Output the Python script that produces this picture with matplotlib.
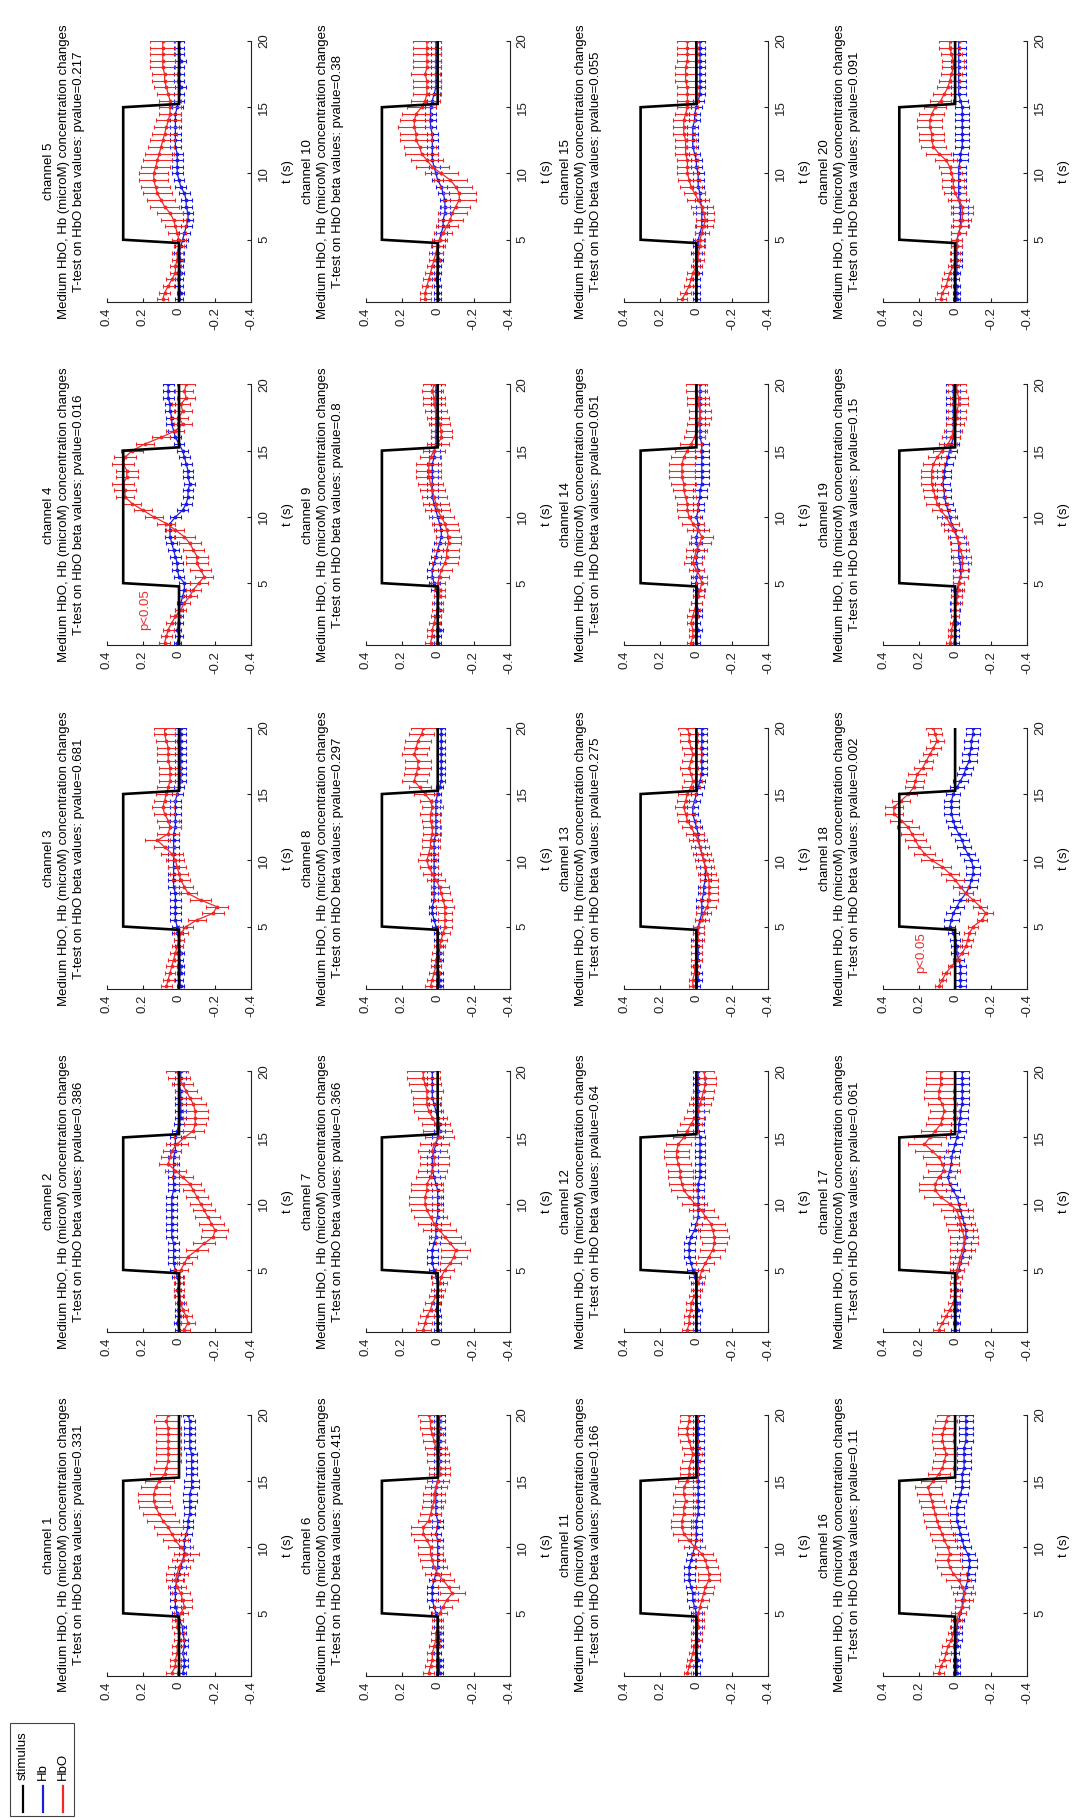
import numpy as np
import matplotlib
matplotlib.use("Agg")
import matplotlib.pyplot as plt
from matplotlib.patches import Rectangle

plt.rcParams['font.family'] = ['Liberation Sans', 'DejaVu Sans']
plt.rcParams['axes.unicode_minus'] = False

# ---------------- data (concentration values in 0.01 microM units) ----------------
t_step = 0.5                      # sampling period (s)
n_samples = 40                    # samples 0.5 s ... 20 s
stim_t = [0.3, 4.75, 5.0, 15.0, 15.25, 20.0]
stim_v = [0.0, 0.0, 0.31, 0.31, 0.0, 0.0]

pvalues = ['0.331', '0.386', '0.681', '0.016', '0.217',
           '0.415', '0.366', '0.297', '0.8', '0.38',
           '0.166', '0.64', '0.275', '0.051', '0.055',
           '0.11', '0.061', '0.002', '0.15', '0.091']

ch1_hbo = [4, 2, 2, 1, 1, 0, 0, 1, 1, -1, -3, -2, -1, 1, 2, 1, 0, -2, -4, -1,
           2, 4, 6, 9, 11, 13, 14, 14, 13, 11, 8, 7, 6, 6, 6, 6, 6, 6, 7, 6]
ch1_hbo_err = [3, 3, 3, 3, 3, 3, 3, 3, 3, 4, 4, 5, 5, 5, 5, 6, 6, 6, 7, 7,
               7, 8, 8, 9, 9, 9, 9, 9, 8, 8, 8, 7, 7, 7, 7, 7, 7, 7, 7, 7]
ch1_hb = [-2, -3, -3, -2, -3, -3, -2, -2, 0, 1, 2, 2, 2, 2, 1, 0, -1, -2, -3, -3,
          -3, -4, -5, -5, -6, -6, -6, -6, -7, -7, -7, -7, -7, -7, -6, -6, -6, -6, -6, -5]
ch1_hb_err = [2, 2, 2, 2, 2, 2, 2, 2, 2, 3, 3, 3, 3, 3, 3, 3, 3, 3, 3, 3,
              3, 3, 3, 3, 3, 3, 4, 4, 4, 4, 3, 3, 3, 3, 3, 3, 3, 3, 3, 3]

ch2_hbo = [-3, -5, -4, -2, -1, 0, 0, 0, 0, -1, -3, -5, -10, -14, -19, -20, -18, -16, -14, -12,
           -10, -8, -6, -2, 2, 6, 5, 4, 1, -3, -8, -9, -9, -9, -8, -6, -4, -2, 0, 1]
ch2_hbo_err = [3, 4, 3, 3, 3, 3, 3, 3, 3, 4, 4, 5, 6, 6, 7, 7, 7, 7, 6, 6,
               6, 6, 6, 6, 6, 5, 5, 5, 6, 6, 6, 6, 7, 7, 7, 6, 6, 6, 6, 6]
ch2_hb = [0, 1, 0, 0, -1, 0, 1, 0, 1, 2, 3, 3, 3, 3, 4, 4, 4, 4, 4, 4,
          4, 3, 3, 3, 3, 3, 3, 2, 2, 2, 1, 0, -1, -1, -1, -1, -1, 0, -1, -1]
ch2_hb_err = [2, 2, 2, 2, 2, 2, 2, 2, 3, 3, 3, 3, 3, 3, 3, 3, 3, 3, 3, 3,
              3, 3, 3, 3, 3, 3, 3, 3, 3, 3, 3, 3, 3, 3, 3, 3, 3, 3, 3, 3]

ch3_hbo = [7, 6, 5, 4, 3, 2, 1, 0, -1, -4, -10, -19, -21, -12, -5, -3, -1, 0, 1, 2,
           4, 8, 12, 6, 5, 6, 8, 9, 8, 7, 6, 5, 5, 5, 6, 6, 6, 7, 8, 8]
ch3_hbo_err = [3, 3, 3, 3, 3, 3, 3, 3, 4, 4, 5, 6, 6, 6, 5, 5, 5, 5, 5, 5,
               6, 6, 7, 6, 6, 6, 6, 6, 6, 6, 6, 6, 6, 6, 6, 6, 6, 6, 6, 6]
ch3_hb = [-1, 0, -1, -1, 0, -1, 0, 0, 1, 1, 2, 2, 2, 2, 2, 3, 3, 3, 3, 3,
          3, 3, 3, 3, 2, 2, 2, 2, 2, 1, 0, -1, -1, -1, -1, -1, -1, -1, -1, -1]
ch3_hb_err = [2, 2, 2, 2, 2, 2, 2, 3, 3, 3, 3, 3, 3, 3, 3, 3, 3, 3, 3, 3,
              3, 3, 3, 3, 3, 3, 3, 3, 3, 3, 3, 3, 3, 3, 3, 3, 3, 3, 3, 3]

ch4_hbo = [8, 7, 6, 4, 2, -1, -3, -6, -8, -11, -14, -12, -10, -10, -8, -6, -3, 2, 7, 14,
           20, 26, 30, 30, 31, 29, 29, 31, 30, 26, 19, 10, 2, -2, 0, -2, -1, -4, -3, -4]
ch4_hbo_err = [3, 3, 3, 3, 3, 3, 3, 4, 4, 5, 5, 6, 6, 6, 6, 6, 6, 5, 5, 5,
               5, 5, 5, 6, 6, 6, 6, 6, 6, 6, 5, 5, 5, 5, 5, 5, 5, 5, 5, 5]
ch4_hb = [1, 0, 1, 0, 0, 0, -1, -2, -3, -3, 0, 1, 1, 2, 3, 4, 5, 5, 5, 2,
          -2, -4, -5, -5, -6, -5, -5, -4, -3, -2, 0, 2, 3, 4, 4, 5, 5, 6, 6, 6]
ch4_hb_err = [2, 2, 2, 2, 2, 2, 2, 2, 3, 3, 3, 3, 3, 3, 3, 3, 3, 3, 3, 3,
              3, 3, 3, 3, 3, 3, 3, 3, 3, 3, 3, 3, 3, 3, 3, 3, 3, 3, 3, 3]

ch5_hbo = [9, 8, 6, 4, 2, 2, 1, 1, 0, 0, 1, 2, 3, 5, 8, 10, 12, 13, 14, 14,
           13, 12, 11, 10, 9, 8, 7, 6, 5, 5, 5, 6, 7, 8, 8, 9, 9, 9, 9, 9]
ch5_hbo_err = [3, 3, 3, 3, 3, 3, 3, 3, 3, 4, 5, 6, 7, 7, 8, 8, 8, 8, 8, 8,
               8, 8, 8, 7, 7, 7, 7, 7, 6, 6, 6, 6, 7, 7, 7, 7, 7, 7, 7, 7]
ch5_hb = [0, -1, 0, 0, -1, 0, -1, 0, -1, -2, -3, -4, -5, -5, -4, -4, -3, -1, 0, 1,
          1, 1, 1, 2, 2, 2, 2, 2, 2, 1, 0, 0, -1, 0, 0, 0, -1, 0, 0, 0]
ch5_hb_err = [2, 2, 2, 2, 2, 2, 2, 3, 3, 3, 3, 3, 3, 3, 3, 3, 3, 3, 3, 3,
              3, 3, 3, 3, 3, 3, 3, 3, 3, 3, 3, 3, 3, 3, 3, 3, 3, 3, 3, 3]

ch6_hbo = [5, 4, 3, 3, 2, 1, 1, 0, 0, -1, -3, -5, -8, -6, -3, 0, 2, 3, 4, 4,
           6, 8, 8, 5, 4, 3, 2, 2, 1, 0, -1, -1, 0, 0, 1, 2, 3, 4, 4, 5]
ch6_hbo_err = [3, 3, 3, 3, 3, 3, 3, 3, 3, 4, 5, 6, 7, 6, 6, 7, 7, 7, 7, 7,
               7, 7, 7, 6, 6, 6, 6, 6, 6, 6, 6, 6, 6, 6, 6, 6, 6, 6, 6, 6]
ch6_hb = [-1, -1, -1, 0, -1, -1, -1, 0, 0, 1, 2, 3, 3, 3, 2, 1, 0, 0, 0, 0,
          0, 1, 0, 0, 1, 1, 1, 1, 1, 0, -1, -1, -1, -1, -1, -1, -1, -1, -1, -1]
ch6_hb_err = [2, 2, 2, 2, 2, 2, 2, 2, 2, 3, 3, 3, 3, 3, 3, 3, 3, 3, 3, 3,
              3, 3, 3, 3, 3, 3, 3, 3, 3, 3, 3, 3, 3, 3, 3, 3, 3, 3, 3, 3]

ch7_hbo = [8, 7, 6, 4, 3, 1, 0, -1, -2, -4, -7, -9, -10, -7, -4, -1, 2, 4, 6, 7,
           7, 6, 6, 4, 3, 2, 2, 3, 2, -1, 0, 1, 3, 5, 6, 6, 6, 7, 8, 8]
ch7_hbo_err = [4, 4, 4, 4, 4, 4, 4, 4, 5, 5, 6, 7, 8, 8, 9, 9, 9, 9, 9, 9,
               9, 9, 9, 8, 8, 8, 8, 8, 8, 8, 8, 8, 8, 8, 8, 8, 9, 9, 9, 9]
ch7_hb = [0, 0, 0, 1, 0, 0, 0, 0, 1, 2, 3, 3, 3, 2, 1, 1, 1, 0, 0, 0,
          0, 0, 1, 2, 3, 3, 3, 2, 1, 0, -1, -1, 0, 1, 2, 3, 3, 3, 3, 3]
ch7_hb_err = [2, 2, 2, 2, 2, 2, 2, 3, 3, 3, 3, 3, 3, 3, 3, 3, 3, 3, 3, 3,
              3, 3, 3, 3, 3, 3, 3, 3, 3, 3, 3, 3, 3, 3, 3, 3, 3, 3, 3, 3]

ch8_hbo = [4, 3, 2, 1, 1, 0, -1, -2, -3, -4, -4, -4, -4, -3, -2, -1, 1, 3, 5, 6,
           5, 4, 4, 3, 3, 4, 4, 3, 4, 7, 10, 13, 12, 11, 11, 13, 12, 11, 9, 8]
ch8_hbo_err = [3, 3, 3, 3, 3, 3, 3, 3, 4, 4, 4, 4, 5, 5, 5, 5, 5, 5, 5, 5,
               5, 5, 5, 5, 5, 5, 6, 6, 6, 6, 6, 7, 7, 7, 7, 7, 7, 7, 7, 7]
ch8_hb = [-1, -1, -1, 0, -1, -1, -1, 0, 0, 1, 2, 3, 3, 2, 2, 2, 2, 2, 2, 2,
          2, 2, 2, 1, 1, 1, 1, 1, 1, 0, -1, -2, -2, -2, -2, -2, -2, -2, -2, -2]
ch8_hb_err = [2, 2, 2, 2, 2, 2, 2, 2, 2, 2, 2, 2, 2, 2, 2, 2, 2, 2, 2, 2,
              2, 2, 2, 2, 2, 2, 2, 2, 2, 2, 2, 2, 2, 2, 2, 2, 2, 2, 2, 2]

ch9_hbo = [4, 3, 3, 2, 1, 0, 0, -1, -1, 0, -1, -2, -4, -5, -5, -6, -6, -5, -4, -2,
           0, 1, 2, 3, 4, 5, 5, 5, 4, 2, 0, -2, -2, -1, 0, 1, 2, 2, 3, 2]
ch9_hbo_err = [3, 3, 3, 3, 3, 3, 3, 3, 3, 4, 5, 6, 7, 7, 7, 7, 7, 7, 7, 7,
               7, 7, 7, 7, 7, 7, 7, 7, 6, 6, 6, 6, 6, 6, 6, 6, 6, 6, 6, 6]
ch9_hb = [0, 0, -1, 0, 0, -1, 0, 0, 1, 2, 3, 3, 2, 1, 0, -1, -2, -2, -1, 0,
          1, 2, 3, 3, 3, 3, 3, 3, 2, 2, 1, 1, 1, 1, 1, 1, 1, 1, 1, 1]
ch9_hb_err = [2, 2, 2, 2, 2, 2, 2, 2, 3, 3, 3, 3, 3, 3, 3, 3, 3, 3, 3, 3,
              3, 3, 3, 3, 3, 3, 3, 3, 3, 3, 3, 3, 3, 3, 3, 3, 3, 3, 3, 3]

ch10_hbo = [7, 7, 6, 5, 4, 3, 2, 1, 0, -1, -3, -5, -7, -8, -10, -12, -12, -10, -7, -2,
            3, 6, 9, 10, 12, 12, 13, 13, 12, 9, 7, 6, 6, 6, 7, 6, 6, 6, 6, 6]
ch10_hbo_err = [3, 3, 3, 3, 3, 3, 3, 4, 4, 4, 5, 6, 7, 8, 8, 9, 9, 9, 9, 9,
                9, 9, 9, 9, 9, 9, 9, 8, 8, 8, 8, 8, 8, 8, 8, 8, 8, 8, 8, 8]
ch10_hb = [0, 0, 0, 1, 0, 0, -1, 0, 0, -1, -2, -3, -3, -4, -4, -4, -3, -2, 0, 1,
           2, 3, 3, 3, 3, 3, 4, 4, 4, 4, 3, 2, 1, 1, 1, 1, 1, 1, 1, 1]
ch10_hb_err = [2, 2, 2, 2, 2, 2, 2, 3, 3, 3, 3, 3, 3, 3, 3, 3, 3, 3, 3, 3,
               3, 3, 3, 3, 3, 3, 3, 3, 3, 3, 3, 3, 3, 3, 3, 3, 3, 3, 3, 3]

ch11_hbo = [5, 4, 3, 2, 1, 0, 0, -1, -1, -1, -2, -3, -4, -5, -7, -7, -6, -5, -3, 1,
            4, 7, 8, 8, 7, 7, 6, 7, 7, 5, 4, 4, 3, 2, 3, 4, 5, 5, 4, 4]
ch11_hbo_err = [2, 2, 2, 2, 2, 3, 3, 3, 3, 3, 4, 4, 5, 5, 6, 6, 6, 6, 6, 6,
                6, 6, 6, 6, 6, 6, 6, 6, 5, 5, 5, 5, 5, 5, 5, 5, 5, 5, 5, 5]
ch11_hb = [0, 0, -1, 0, 0, -1, 0, -1, 0, 0, 1, 2, 2, 3, 4, 4, 4, 3, 2, 1,
           0, 0, 0, 0, -1, -1, -1, -1, -1, -1, -1, -1, -1, -1, -1, -1, -1, -1, -1, -1]
ch11_hb_err = [2, 2, 2, 2, 2, 2, 2, 2, 3, 3, 3, 3, 3, 3, 3, 3, 3, 3, 3, 3,
               3, 3, 3, 3, 3, 3, 3, 3, 3, 3, 3, 3, 3, 3, 3, 3, 3, 3, 3, 3]

ch12_hbo = [5, 4, 4, 3, 3, 1, 0, -1, -2, -3, -5, -7, -9, -10, -10, -9, -8, -5, -3, 1,
            4, 7, 8, 9, 9, 10, 11, 11, 10, 7, 5, 3, 1, -1, -2, -3, -4, -5, -5, -4]
ch12_hbo_err = [3, 3, 3, 3, 3, 3, 3, 3, 3, 4, 5, 6, 7, 7, 8, 8, 8, 7, 7, 7,
                7, 7, 7, 7, 7, 7, 7, 7, 7, 6, 6, 6, 6, 6, 6, 6, 6, 6, 6, 6]
ch12_hb = [0, 0, 0, -1, 0, 0, 0, 0, 1, 2, 3, 4, 4, 4, 3, 1, 0, -1, -1, -1,
           -1, -1, -1, -2, -2, -2, -2, -2, -2, -2, -1, -1, -1, -1, -1, -1, -1, -1, -1, -1]
ch12_hb_err = [2, 2, 2, 2, 2, 2, 2, 3, 3, 3, 3, 3, 3, 3, 3, 3, 3, 3, 3, 3,
               3, 3, 3, 3, 3, 3, 3, 3, 3, 3, 3, 3, 3, 3, 3, 3, 3, 3, 3, 3]

ch13_hbo = [2, 2, 1, 1, 0, 0, 0, -1, -1, -1, -3, -4, -6, -7, -7, -7, -7, -6, -5, -4,
            -3, -2, -1, 1, 3, 5, 6, 7, 6, 5, 3, 2, 3, 4, 3, 2, 3, 4, 4, 5]
ch13_hbo_err = [2, 2, 2, 2, 3, 3, 3, 3, 3, 3, 4, 4, 5, 5, 5, 5, 5, 5, 5, 5,
                5, 5, 5, 5, 5, 5, 5, 5, 5, 5, 5, 5, 5, 5, 5, 5, 5, 5, 5, 5]
ch13_hb = [0, -1, -1, 0, -1, -1, -1, 0, -1, -1, -2, -3, -3, -3, -4, -4, -5, -5, -5, -4,
           -3, -2, -1, -1, 0, 1, 2, 2, 1, 0, -1, -2, -3, -3, -3, -3, -3, -3, -3, -3]
ch13_hb_err = [2, 2, 2, 2, 2, 2, 2, 3, 3, 3, 3, 3, 3, 3, 3, 3, 3, 3, 3, 3,
               3, 3, 3, 3, 3, 3, 3, 3, 3, 3, 3, 3, 3, 3, 3, 3, 3, 3, 3, 3]

ch14_hbo = [3, 2, 2, 3, 2, 1, 0, -1, -2, -3, -2, 0, 2, 1, 0, -2, -3, -1, 2, 4,
            5, 5, 6, 7, 7, 8, 8, 8, 7, 5, 3, 1, 0, -1, -2, -2, -1, -1, 0, 0]
ch14_hbo_err = [2, 2, 2, 2, 3, 3, 3, 3, 3, 3, 4, 4, 5, 5, 6, 6, 6, 6, 6, 6,
                6, 6, 6, 6, 7, 7, 7, 7, 7, 7, 6, 6, 6, 6, 6, 6, 6, 6, 6, 6]
ch14_hb = [0, 0, -1, 0, -1, -1, 0, -1, -1, 0, 0, -1, 0, 0, -1, 0, 0, -1, -1, 0,
           -1, -1, -2, -2, -3, -3, -3, -3, -3, -3, -3, -2, -2, -2, -2, -2, -2, -2, -2, -2]
ch14_hb_err = [2, 2, 2, 2, 2, 2, 3, 3, 3, 3, 3, 3, 3, 3, 3, 3, 3, 3, 3, 3,
               3, 3, 4, 4, 4, 4, 4, 4, 4, 4, 4, 3, 3, 3, 3, 3, 3, 3, 3, 3]

ch15_hbo = [8, 6, 4, 3, 2, 0, -1, -1, -2, -2, -3, -4, -5, -4, -3, -1, 1, 3, 4, 5,
            5, 5, 6, 6, 6, 7, 7, 7, 6, 5, 5, 5, 5, 6, 6, 6, 5, 5, 5, 5]
ch15_hbo_err = [3, 3, 3, 3, 3, 3, 3, 3, 3, 3, 4, 5, 5, 6, 6, 6, 6, 6, 6, 6,
                6, 6, 6, 6, 6, 6, 6, 6, 6, 6, 6, 6, 6, 6, 6, 6, 6, 6, 6, 6]
ch15_hb = [0, 0, 0, 0, -1, 0, 0, 0, -1, -1, -2, -3, -3, -3, -3, -2, -2, -1, -1, -1,
           0, 0, 1, 2, 2, 2, 2, 1, 1, 0, -1, -2, -2, -2, -2, -2, -2, -2, -2, -2]
ch15_hb_err = [2, 2, 2, 2, 2, 2, 2, 3, 3, 3, 3, 3, 3, 3, 3, 3, 3, 3, 3, 3,
               3, 3, 3, 3, 3, 3, 3, 3, 3, 3, 3, 3, 3, 3, 3, 3, 3, 3, 3, 3]

ch16_hbo = [9, 8, 6, 5, 4, 2, 1, 0, -1, -2, -4, -5, -5, -4, -2, 1, 3, 4, 3, 4,
            6, 7, 9, 10, 11, 12, 13, 14, 15, 12, 9, 7, 6, 5, 6, 7, 7, 6, 5, 4]
ch16_hbo_err = [3, 3, 3, 3, 3, 3, 3, 3, 3, 4, 4, 5, 6, 6, 7, 7, 7, 7, 7, 7,
                7, 7, 7, 7, 7, 7, 7, 7, 7, 7, 6, 6, 6, 6, 6, 6, 6, 6, 6, 6]
ch16_hb = [-1, -1, -1, 0, -1, -1, -1, -1, -2, -3, -4, -4, -5, -6, -7, -7, -8, -8, -7, -5,
           -4, -3, -2, -1, -1, -1, -2, -3, -4, -4, -4, -5, -5, -5, -5, -6, -6, -6, -6, -6]
ch16_hb_err = [2, 2, 2, 2, 2, 3, 3, 3, 3, 3, 4, 4, 4, 4, 4, 4, 4, 4, 4, 4,
               4, 4, 4, 4, 4, 4, 4, 4, 4, 4, 4, 4, 4, 4, 4, 4, 4, 4, 4, 4]

ch17_hbo = [9, 7, 5, 3, 1, 0, 0, 0, -1, -1, -2, -3, -4, -5, -5, -4, -3, -2, -1, 3,
            8, 11, 11, 9, 6, 7, 9, 13, 17, 14, 11, 8, 7, 6, 7, 9, 9, 8, 8, 8]
ch17_hbo_err = [3, 3, 3, 3, 3, 3, 3, 3, 3, 4, 5, 6, 7, 8, 8, 8, 8, 8, 9, 9,
                9, 9, 9, 9, 9, 9, 9, 9, 9, 9, 8, 8, 8, 8, 8, 8, 8, 8, 8, 8]
ch17_hb = [0, -1, 0, -1, -1, 0, -1, 0, -1, -2, -3, -4, -5, -5, -6, -6, -5, -4, -3, -2,
           -1, 1, 3, 4, 3, 2, 2, 1, 0, -1, -2, -2, -3, -3, -4, -4, -4, -4, -4, -4]
ch17_hb_err = [2, 2, 2, 2, 2, 3, 3, 3, 3, 3, 4, 4, 4, 4, 4, 4, 4, 4, 4, 4,
               4, 4, 4, 4, 4, 4, 4, 4, 4, 4, 4, 4, 4, 4, 4, 4, 4, 4, 4, 4]

ch18_hbo = [9, 7, 5, 2, -1, -4, -6, -7, -8, -10, -15, -17, -14, -10, -6, -3, 0, 3, 7, 13,
            17, 20, 22, 24, 26, 30, 34, 34, 30, 26, 23, 22, 21, 18, 16, 14, 12, 10, 11, 12]
ch18_hbo_err = [2, 2, 2, 2, 2, 3, 3, 3, 3, 3, 3, 4, 4, 4, 4, 4, 5, 5, 5, 6,
                6, 6, 6, 6, 6, 6, 5, 5, 5, 5, 5, 5, 5, 5, 4, 4, 4, 4, 4, 4]
ch18_hb = [-3, -3, -3, -3, -2, -1, -1, 0, 1, 3, 2, 1, -1, -3, -6, -8, -9, -10, -10, -9,
           -7, -5, -4, -2, 0, 1, 2, 2, 2, 1, -1, -3, -5, -6, -8, -8, -9, -9, -10, -10]
ch18_hb_err = [3, 3, 3, 3, 3, 3, 3, 3, 3, 3, 4, 4, 4, 4, 4, 4, 4, 4, 4, 4,
               4, 4, 4, 4, 4, 4, 4, 4, 4, 4, 4, 4, 4, 4, 4, 4, 4, 4, 4, 4]

ch19_hbo = [3, 2, 2, 1, 0, 0, -1, -1, -2, -2, -3, -4, -4, -4, -3, -2, -1, 1, 3, 5,
            8, 10, 11, 12, 13, 13, 13, 12, 10, 7, 4, 2, 1, 0, -1, -1, -2, -2, -1, -1]
ch19_hbo_err = [2, 2, 2, 2, 2, 2, 3, 3, 3, 3, 4, 4, 5, 5, 5, 5, 5, 5, 5, 5,
                5, 6, 6, 6, 6, 6, 6, 6, 5, 5, 5, 5, 5, 5, 5, 5, 5, 5, 5, 5]
ch19_hb = [0, 0, 0, -1, 0, 0, 0, -1, -1, -2, -3, -3, -3, -2, -2, -2, -1, 0, 2, 3,
           4, 5, 6, 6, 7, 6, 6, 5, 4, 3, 2, 1, 1, 1, 1, 1, 1, 1, 1, 1]
ch19_hb_err = [2, 2, 2, 2, 2, 3, 3, 3, 3, 3, 4, 4, 4, 4, 4, 4, 4, 4, 4, 4,
               4, 4, 4, 4, 4, 4, 4, 4, 4, 4, 4, 4, 4, 4, 4, 4, 4, 4, 4, 4]

ch20_hbo = [8, 7, 5, 4, 3, 1, 0, 0, -1, -1, -2, -3, -4, -4, -4, -2, 0, 1, 1, 2,
            3, 5, 9, 12, 13, 13, 14, 14, 13, 11, 8, 6, 4, 3, 2, 1, 1, 2, 3, 3]
ch20_hbo_err = [3, 3, 3, 3, 3, 3, 3, 3, 3, 3, 4, 5, 5, 6, 6, 6, 6, 6, 6, 6,
                6, 6, 7, 7, 7, 7, 7, 7, 7, 6, 6, 6, 6, 6, 6, 6, 6, 6, 6, 6]
ch20_hb = [-1, -1, -1, 0, -1, -1, -1, -1, -1, -1, -2, -3, -3, -3, -3, -2, -2, -2, -2, -2,
           -2, -3, -3, -4, -4, -4, -4, -4, -4, -4, -3, -2, -2, -2, -2, -2, -2, -2, -2, -2]
ch20_hb_err = [2, 2, 2, 2, 2, 3, 3, 3, 3, 3, 4, 4, 4, 4, 4, 4, 4, 4, 4, 4,
               4, 4, 4, 4, 4, 4, 4, 4, 4, 4, 4, 4, 4, 4, 4, 4, 4, 4, 4, 4]

g = globals()
HBO = {n: g['ch%d_hbo' % n] for n in range(1, 21)}
HBO_ERR = {n: g['ch%d_hbo_err' % n] for n in range(1, 21)}
HB = {n: g['ch%d_hb' % n] for n in range(1, 21)}
HB_ERR = {n: g['ch%d_hb_err' % n] for n in range(1, 21)}

# ---------------- layout (pixels of the 1078 x 1818 canvas) ----------------
W, H = 1078, 1818
AX_L0, AX_PITCH_X, AX_W = 107, 258.7, 144
AX_T0, AX_PITCH_Y, AX_H = 41, 343.4, 261
RED = '#f02828'
BLUE = '#1c1ce6'
FS = 9.5

fig = plt.figure(figsize=(W / 100, H / 100), dpi=100)
fig.patch.set_facecolor('white')
ov = fig.add_axes([0, 0, 1, 1], zorder=-1)
ov.set_xlim(0, W)
ov.set_ylim(H, 0)
ov.axis('off')

t = np.arange(1, n_samples + 1) * t_step
unit = 0.01

for n in range(1, 21):
    col = (n - 1) // 5
    row = 4 - (n - 1) % 5
    L = AX_L0 + AX_PITCH_X * col
    T = AX_T0 + AX_PITCH_Y * row
    ax = fig.add_axes([L / W, 1 - (T + AX_H) / H, AX_W / W, AX_H / H])
    ax.set_facecolor('none')

    hbo = np.array(HBO[n]) * unit
    hbo_e = np.array(HBO_ERR[n]) * unit
    hb = np.array(HB[n]) * unit
    hb_e = np.array(HB_ERR[n]) * unit

    ax.errorbar(hb, t, xerr=hb_e, color=BLUE, lw=0.9, elinewidth=0.8,
                marker='.', ms=3.5, capsize=1.6, capthick=0.8, zorder=2)
    ax.errorbar(hbo, t, xerr=hbo_e, color=RED, lw=0.9, elinewidth=0.8,
                marker='.', ms=3.5, capsize=1.6, capthick=0.8, zorder=3)
    ax.plot(stim_v, stim_t, color='black', lw=1.9, zorder=4, solid_joinstyle='miter')

    ax.set_xlim(0.4, -0.4)
    ax.set_ylim(0.3, 20)
    for s in ('top', 'left'):
        ax.spines[s].set_visible(False)
    for s in ('bottom', 'right'):
        ax.spines[s].set_linewidth(0.8)
        ax.spines[s].set_color('#222222')
    ax.yaxis.tick_right()
    ax.set_xticks([0.4, 0.2, 0.0, -0.2, -0.4])
    ax.set_xticklabels(['0.4', '0.2', '0', '-0.2', '-0.4'], rotation=90, fontsize=FS)
    ax.set_yticks([5, 10, 15, 20])
    ax.set_yticklabels(['5', '10', '15', '20'], rotation=90, va='center', fontsize=FS)
    ax.tick_params(axis='x', direction='in', length=3, width=0.8, pad=4, colors='#222222')
    ax.tick_params(axis='y', direction='in', length=3, width=0.8, pad=5, colors='#222222')

    if float(pvalues[n - 1]) < 0.05:
        ax.text(0.19, 3.0, 'p<0.05', color=RED, rotation=90, fontsize=FS,
                ha='center', va='center')

    cy = T + AX_H / 2
    ov.text(L + AX_W + 37, cy, 't (s)', rotation=90, ha='center', va='center', fontsize=FS)
    ov.text(L - 58, cy, 'channel %d' % n, rotation=90, ha='center', va='center', fontsize=FS)
    ov.text(L - 43, cy, 'Medium HbO, Hb (microM) concentration changes', rotation=90,
            ha='center', va='center', fontsize=FS)
    ov.text(L - 28, cy, 'T-test on HbO beta values: pvalue=%s' % pvalues[n - 1], rotation=90,
            ha='center', va='center', fontsize=FS)

# legend (drawn rotated like the rest of the figure)
ov.add_patch(Rectangle((10, 1723), 64, 93, fill=False, lw=0.8, edgecolor='#444444'))
for x, lab, c in ((23, 'stimulus', 'black'), (43, 'Hb', BLUE), (63, 'HbO', RED)):
    ov.plot([x, x], [1786, 1812], color=c, lw=1.6)
    ov.text(x, 1780, lab, rotation=90, ha='center', va='bottom', fontsize=FS)

fig.savefig('out.png', dpi=100, facecolor='white')
